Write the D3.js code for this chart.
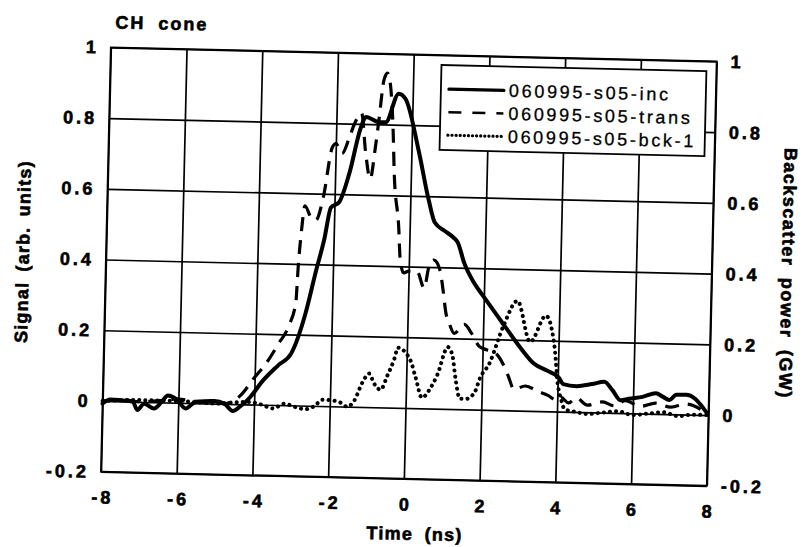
<!DOCTYPE html>
<html>
<head>
<meta charset="utf-8">
<script src="https://cdn.jsdelivr.net/npm/d3@7"></script>
<style>
  html, body { margin: 0; padding: 0; background: #fff; }
  svg { display: block; }
  text { font-family: "Liberation Sans", Arial, Helvetica, sans-serif; fill: #000; }
</style>
</head>
<body>
<script>
// series: [time (ns), signal]
const incData = [
  [-8, -0.007], [-7.8, 0.005], [-7.5, 0.003], [-7.2, 0.0], [-7.08, -0.023], [-6.9, -0.005],
  [-6.64, -0.018], [-6.45, 0.0], [-6.28, 0.02], [-6.06, 0.011], [-5.8, -0.016], [-5.6, 0.0],
  [-5.49, 0.004], [-5.05, 0.007], [-4.78, 0.0], [-4.56, -0.02], [-4.35, -0.005], [-4.08, 0.024],
  [-3.82, 0.063], [-3.38, 0.113], [-3.05, 0.147], [-2.7, 0.26], [-2.45, 0.38], [-2.25, 0.47],
  [-2.09, 0.562], [-1.88, 0.577], [-1.63, 0.658], [-1.35, 0.79], [-1.22, 0.82], [-0.87, 0.806],
  [-0.7, 0.806], [-0.37, 0.888], [-0.19, 0.874], [0.19, 0.728], [0.49, 0.587], [0.66, 0.526],
  [0.93, 0.503], [1.16, 0.485], [1.28, 0.471], [1.46, 0.414], [1.74, 0.357], [2.0, 0.319],
  [2.54, 0.242], [3.01, 0.176], [3.36, 0.134], [3.71, 0.115], [4.02, 0.097], [4.15, 0.078],
  [4.5, 0.073], [4.91, 0.08], [5.23, 0.087], [5.45, 0.064], [5.67, 0.036], [5.89, 0.041],
  [6.25, 0.047], [6.6, 0.058], [6.78, 0.049], [6.96, 0.04], [7.14, 0.055], [7.4, 0.056],
  [7.63, 0.046], [7.8, 0.027], [7.94, 0.008]
];

const transData = [
  [-8, 0.0], [-7.5, 0.005], [-7.0, 0.0], [-6.5, 0.005], [-6.0, 0.01], [-5.5, 0.005],
  [-5.0, 0.005], [-4.8, 0.0], [-4.37, 0.024], [-4.02, 0.074], [-3.67, 0.123], [-3.4, 0.172],
  [-3.14, 0.222], [-2.96, 0.29], [-2.92, 0.39], [-2.85, 0.5], [-2.78, 0.565], [-2.6, 0.53],
  [-2.48, 0.525], [-2.3, 0.59], [-2.09, 0.732], [-2.0, 0.743], [-1.83, 0.715], [-1.65, 0.76],
  [-1.52, 0.8], [-1.34, 0.83], [-1.21, 0.72], [-1.07, 0.645], [-0.96, 0.73], [-0.88, 0.81],
  [-0.77, 0.925], [-0.68, 0.945], [-0.59, 0.908], [-0.5, 0.79], [-0.44, 0.66], [-0.29, 0.51],
  [-0.23, 0.418], [-0.13, 0.382], [0.0, 0.387], [0.22, 0.387], [0.42, 0.34], [0.53, 0.4],
  [0.66, 0.42], [0.83, 0.39], [0.92, 0.335], [1.01, 0.27], [1.1, 0.243], [1.24, 0.214],
  [1.5, 0.24], [1.7, 0.215], [1.9, 0.18], [2.1, 0.17], [2.35, 0.16], [2.55, 0.13],
  [2.7, 0.095], [2.85, 0.06], [3.15, 0.07], [3.5, 0.055], [3.75, 0.045], [4.0, 0.03],
  [4.1, 0.04], [4.3, 0.025], [4.5, 0.04], [4.8, 0.02], [5.2, 0.03], [5.5, 0.02],
  [5.8, 0.035], [6.2, 0.02], [6.6, 0.03], [7.0, 0.02], [7.4, 0.03], [7.8, 0.015], [8.0, 0.0]
];

const bckData = [
  [-8, 0.0], [-7, 0.005], [-6, 0.005], [-5, 0.0], [-4.5, 0.005], [-4.15, 0.007],
  [-3.8, 0.0], [-3.5, -0.01], [-3.2, 0.004], [-2.9, -0.005], [-2.65, -0.01], [-2.4, 0.0],
  [-2.2, 0.018], [-1.9, 0.016], [-1.7, 0.01], [-1.55, 0.0], [-1.37, 0.015], [-1.15, 0.07],
  [-0.98, 0.095], [-0.85, 0.068], [-0.67, 0.05], [-0.5, 0.09], [-0.32, 0.14], [-0.24, 0.17],
  [-0.02, 0.155], [0.12, 0.13], [0.25, 0.086], [0.43, 0.03], [0.6, 0.05], [0.82, 0.096],
  [1.08, 0.175], [1.21, 0.15], [1.3, 0.087], [1.43, 0.03], [1.6, 0.03], [1.82, 0.05],
  [1.95, 0.09], [2.18, 0.13], [2.54, 0.24], [2.89, 0.31], [3.25, 0.195], [3.65, 0.27],
  [3.9, 0.18], [4.0, 0.08], [4.1, 0.035], [4.2, 0.007], [4.5, 0.0], [4.8, -0.005],
  [5.2, 0.0], [5.6, 0.005], [6.0, -0.005], [6.4, 0.0], [6.8, 0.005], [7.2, -0.005],
  [7.6, 0.0], [8.0, 0.0]
];

const seriesNames = ['060995-s05-inc', '060995-s05-trans', '060995-s05-bck-1'];
const xTicks = [-8, -6, -4, -2, 0, 2, 4, 6, 8];
const xTickLabels = ['-8', '-6', '-4', '-2', '0', '2', '4', '6', '8'];
const yTicks = [-0.2, 0, 0.2, 0.4, 0.6, 0.8, 1];
const yTickLabels = ['-0.2', '0', '0.2', '0.4', '0.6', '0.8', '1'];

const W = 803, H = 547;
const margin = { left: 105.8, top: 54.3 };
const width = 606, height = 424.5;
const tilt = 1.33; // the scan is slightly rotated

const svg = d3.select('body').append('svg')
    .attr('width', W)
    .attr('height', H);

svg.append('rect')
    .attr('width', W)
    .attr('height', H)
    .attr('fill', '#fff');

const root = svg.append('g')
    .attr('transform', `rotate(${tilt},${margin.left + width / 2},${margin.top + height / 2})`);

const g = root.append('g')
    .attr('transform', `translate(${margin.left},${margin.top})`);

const x = d3.scaleLinear().domain([-8, 8]).range([0, width]);
const y = d3.scaleLinear().domain([-0.2, 1]).range([height, 0]);

// bold scanned-looking text
const boldText = (sel, spacing) => sel
    .style('font-size', '18px')
    .style('font-weight', 'bold')
    .style('letter-spacing', spacing + 'px')
    .style('stroke', '#000')
    .style('stroke-width', '0.6px');

// x axis with gridlines
const xAxis = g.append('g')
    .attr('transform', `translate(0,${height})`)
    .call(d3.axisBottom(x)
        .tickValues(xTicks)
        .tickFormat((d, i) => xTickLabels[i])
        .tickSizeInner(-height)
        .tickSizeOuter(0)
        .tickPadding(19));
xAxis.select('.domain').remove();
xAxis.selectAll('line').attr('stroke', '#000').attr('stroke-width', 1.7);
xAxis.selectAll('text').call(boldText, 3).attr('dx', '1.5px');

// left axis with gridlines
const yAxis = g.append('g')
    .call(d3.axisLeft(y)
        .tickValues(yTicks)
        .tickFormat((d, i) => yTickLabels[i])
        .tickSizeInner(-width)
        .tickSizeOuter(0)
        .tickPadding(12));
yAxis.select('.domain').remove();
yAxis.selectAll('line').attr('stroke', '#000').attr('stroke-width', 1.7);
yAxis.selectAll('text').call(boldText, 3);

// right axis, labels only
const yAxisR = g.append('g')
    .attr('transform', `translate(${width},0)`)
    .call(d3.axisRight(y)
        .tickValues(yTicks)
        .tickFormat((d, i) => yTickLabels[i])
        .tickSize(0)
        .tickPadding(14));
yAxisR.select('.domain').remove();
yAxisR.selectAll('text').call(boldText, 3);

// frame
g.append('rect')
    .attr('width', width)
    .attr('height', height)
    .attr('fill', 'none')
    .attr('stroke', '#000')
    .attr('stroke-width', 1.8);

const line = d3.line()
    .x(d => x(d[0]))
    .y(d => y(d[1]))
    .curve(d3.curveMonotoneX);

const styles = [
    { w: 4, dash: null, cap: 'round' },
    { w: 3.2, dash: '14,9', cap: 'butt' },
    { w: 4, dash: '0.1,6', cap: 'round' }
];

const series = [bckData, transData, incData];
const styleIdx = [2, 1, 0];
series.forEach((data, i) => {
    const s = styles[styleIdx[i]];
    g.append('path')
        .datum(data)
        .attr('fill', 'none')
        .attr('stroke', '#000')
        .attr('stroke-width', s.w)
        .attr('stroke-linecap', s.cap)
        .attr('stroke-linejoin', 'round')
        .attr('stroke-dasharray', s.dash)
        .attr('d', line);
});

// legend
const legW = 265, legH = 85;
const legend = g.append('g')
    .attr('transform', `translate(${width - 10 - legW},10)`);
legend.append('rect')
    .attr('width', legW)
    .attr('height', legH)
    .attr('fill', '#fff')
    .attr('stroke', '#000')
    .attr('stroke-width', 1.8);

seriesNames.forEach((name, i) => {
    const s = styles[i];
    const ry = 24 + i * 23;
    legend.append('line')
        .attr('x1', 8).attr('x2', 63)
        .attr('y1', ry).attr('y2', ry)
        .attr('stroke', '#000')
        .attr('stroke-width', s.w - 0.8)
        .attr('stroke-linecap', s.cap)
        .attr('stroke-dasharray', i === 1 ? '13,11' : i === 2 ? '0.1,4' : null);
    legend.append('text')
        .attr('x', 68)
        .attr('y', ry)
        .attr('dy', '0.35em')
        .style('font-size', '18px')
        .style('letter-spacing', '2.7px')
        .style('stroke', '#000')
        .style('stroke-width', '0.3px')
        .text(name);
});

// titles
g.append('text')
    .attr('x', 4)
    .attr('y', -19)
    .call(boldText, 2)
    .style('word-spacing', '6px')
    .text('CH cone');

g.append('text')
    .attr('x', width / 2 + 12)
    .attr('y', height + 61)
    .attr('text-anchor', 'middle')
    .call(boldText, 1.3)
    .style('word-spacing', '5px')
    .text('Time (ns)');

g.append('text')
    .attr('transform', `translate(-77,${height / 2 - 6}) rotate(-90)`)
    .attr('text-anchor', 'middle')
    .call(boldText, 1.2)
    .style('word-spacing', '4px')
    .text('Signal (arb. units)');

g.append('text')
    .attr('transform', `translate(${width + 70},${height / 2 - 2}) rotate(90)`)
    .attr('text-anchor', 'middle')
    .call(boldText, 1.5)
    .style('word-spacing', '5px')
    .text('Backscatter power (GW)');
</script>
</body>
</html>
